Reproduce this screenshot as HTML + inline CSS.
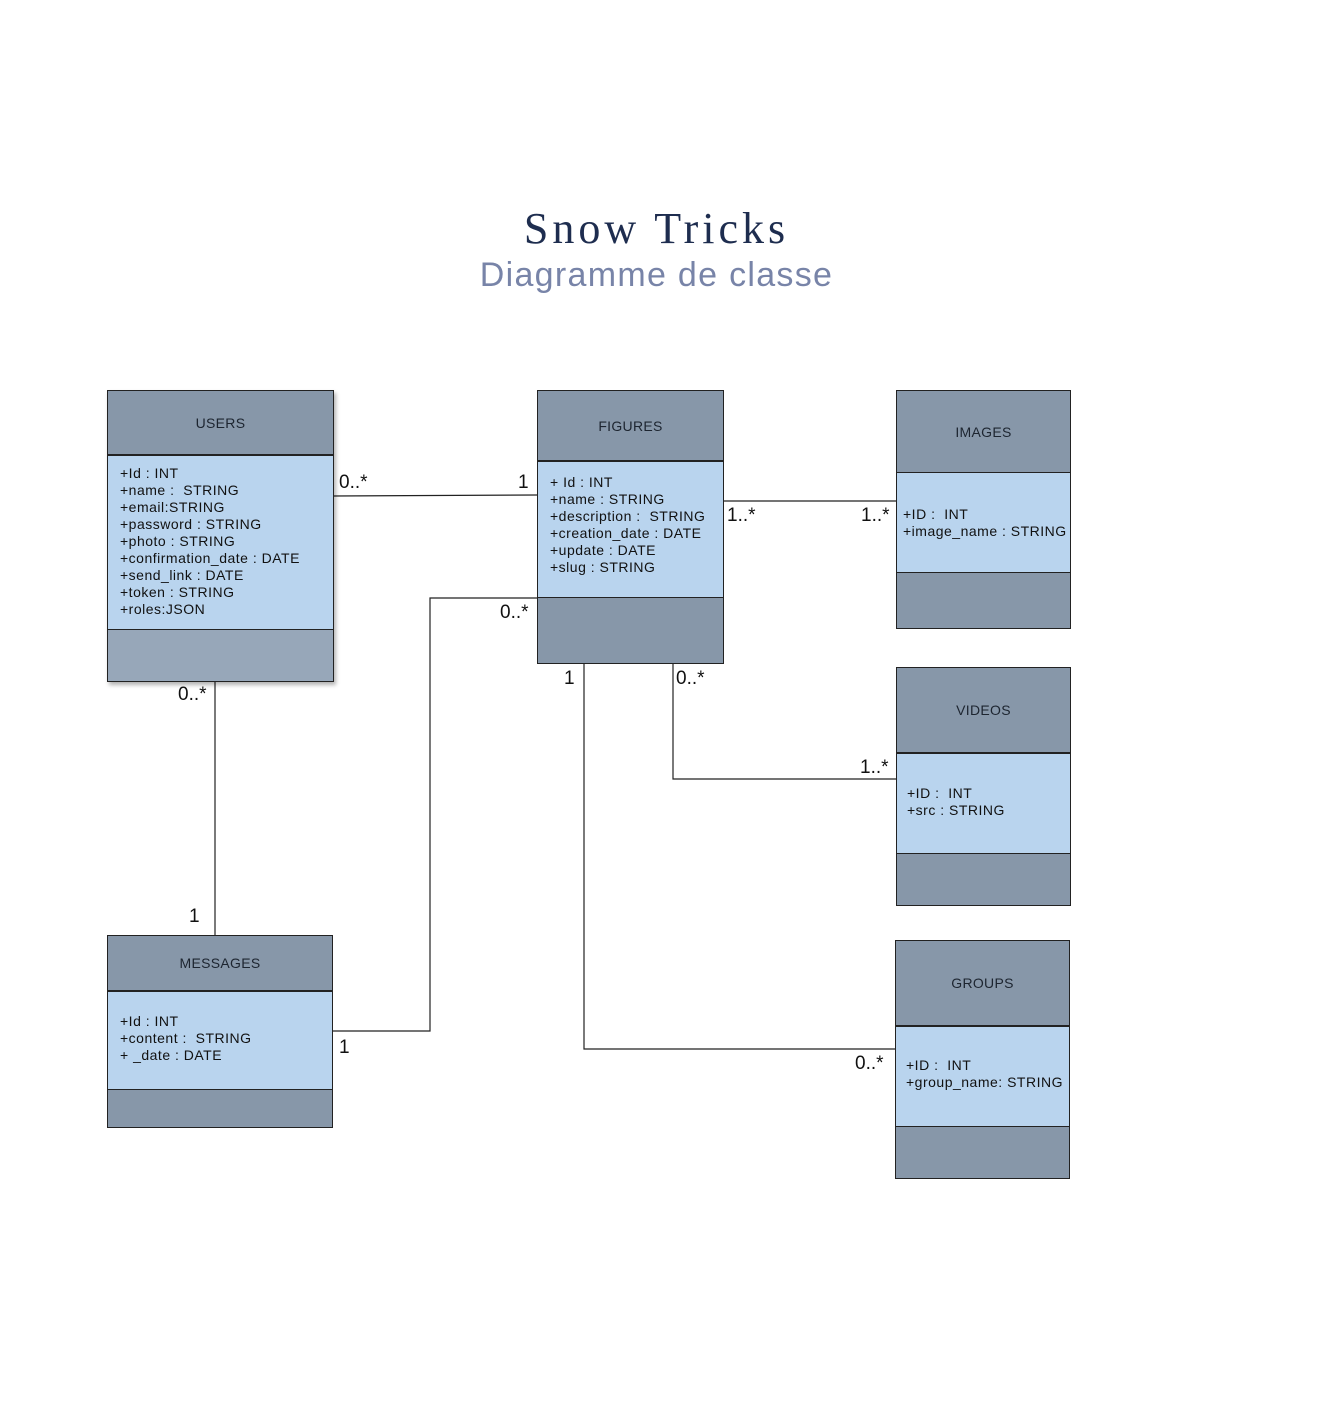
<!DOCTYPE html>
<html><head><meta charset="utf-8"><style>
body{margin:0;width:1323px;height:1420px;background:#fff;position:relative;font-family:"Liberation Sans",sans-serif;overflow:hidden}
.b{position:absolute;border:1px solid #222;box-sizing:border-box}
.h{position:absolute;left:0;right:0;top:0;background:#8797a9;color:#1d2530;font-size:14px;display:flex;align-items:center;justify-content:center;letter-spacing:.3px}
.m{position:absolute;left:0;right:0;background:#b9d4ee;border-top:2px solid #222;border-bottom:1px solid #222;font-size:14px;line-height:17px;color:#111;padding-left:12px;box-sizing:border-box;white-space:pre;letter-spacing:.5px}
.f{position:absolute;left:0;right:0;bottom:0;background:#8797a9}
.l{position:absolute;font-size:19px;color:#111}
</style></head><body>
<div style="position:absolute;left:0;width:1313px;top:203px;text-align:center;font-family:'Liberation Serif',serif;font-size:44px;color:#1e2d4f;letter-spacing:4px">Snow Tricks</div>
<div style="position:absolute;left:0;width:1313px;top:256px;text-align:center;font-size:34px;color:#7884a8;letter-spacing:1.3px">Diagramme de classe</div>

<svg width="1323" height="1420" style="position:absolute;left:0;top:0" fill="none" stroke="#222" stroke-width="1.2">
<polyline points="333,496 537,495"/>
<polyline points="723,501 896,501"/>
<polyline points="332,1031 430,1031 430,598 537,598"/>
<polyline points="673,663 673,779 896,779"/>
<polyline points="584,663 584,1049 895,1049"/>
<polyline points="215,681 215,935"/>
</svg>

<div class="b" style="left:107px;top:390px;width:227px;height:292px;box-shadow:2px 3px 4px rgba(0,0,0,.3)">
<div class="h" style="height:63px">USERS</div>
<div class="m" style="top:63px;height:176px;padding-top:9px">+Id : INT
+name :  STRING
+email:STRING
+password : STRING
+photo : STRING
+confirmation_date : DATE
+send_link : DATE
+token : STRING
+roles:JSON</div>
<div class="f" style="top:239px;background:#97a7b9"></div>
</div>

<div class="b" style="left:537px;top:390px;width:187px;height:274px">
<div class="h" style="height:70px">FIGURES</div>
<div class="m" style="top:69px;height:138px;padding-top:12px">+ Id : INT
+name : STRING
+description :  STRING
+creation_date : DATE
+update : DATE
+slug : STRING</div>
<div class="f" style="top:207px"></div>
</div>

<div class="b" style="left:896px;top:390px;width:175px;height:239px">
<div class="h" style="height:81px">IMAGES</div>
<div class="m" style="top:81px;height:101px;padding-top:33px;padding-left:6px;border-top:1px solid #222">+ID :  INT
+image_name : STRING</div>
<div class="f" style="top:182px"></div>
</div>

<div class="b" style="left:896px;top:667px;width:175px;height:239px">
<div class="h" style="height:84px">VIDEOS</div>
<div class="m" style="top:84px;height:102px;padding-top:31px;padding-left:10px">+ID :  INT
+src : STRING</div>
<div class="f" style="top:186px"></div>
</div>

<div class="b" style="left:895px;top:940px;width:175px;height:239px">
<div class="h" style="height:84px">GROUPS</div>
<div class="m" style="top:84px;height:102px;padding-top:30px;padding-left:10px">+ID :  INT
+group_name: STRING</div>
<div class="f" style="top:186px"></div>
</div>

<div class="b" style="left:107px;top:935px;width:226px;height:193px">
<div class="h" style="height:54px">MESSAGES</div>
<div class="m" style="top:54px;height:100px;padding-top:21px">+Id : INT
+content :  STRING
+ _date : DATE</div>
<div class="f" style="top:154px"></div>
</div>

<div class="l" style="left:339px;top:472px">0..*</div>
<div class="l" style="left:518px;top:472px">1</div>
<div class="l" style="left:727px;top:505px">1..*</div>
<div class="l" style="left:861px;top:505px">1..*</div>
<div class="l" style="left:500px;top:602px">0..*</div>
<div class="l" style="left:564px;top:668px">1</div>
<div class="l" style="left:676px;top:668px">0..*</div>
<div class="l" style="left:178px;top:684px">0..*</div>
<div class="l" style="left:860px;top:757px">1..*</div>
<div class="l" style="left:189px;top:906px">1</div>
<div class="l" style="left:339px;top:1037px">1</div>
<div class="l" style="left:855px;top:1053px">0..*</div>
</body></html>
